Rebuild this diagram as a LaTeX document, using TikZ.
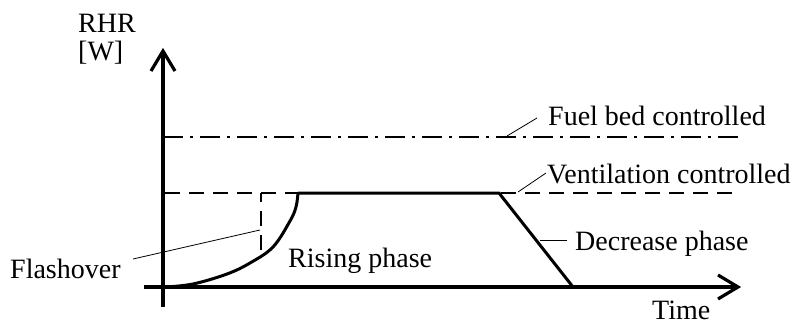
\documentclass[tikz,border=0pt]{standalone}
\usepackage{fontspec}
\setmainfont{Liberation Serif}
\begin{document}
\begin{tikzpicture}[x=1pt,y=-1pt,
  axisline/.style={line width=3.2pt, line join=miter},
  curveline/.style={line width=3pt, line join=round},
  ventline/.style={line width=1.5pt, dash pattern=on 15pt off 9pt},
  fuelline/.style={line width=1.5pt, dash pattern=on 20pt off 7pt on 3pt off 7pt},
  leader/.style={line width=0.8pt},
  lbl/.style={inner sep=0pt, anchor=base west, font=\fontsize{28}{30}\selectfont}]
\useasboundingbox (0,0) rectangle (804,327);
% coordinates
\coordinate (ybot) at (163,307);
\coordinate (ytip) at (163,51);
\coordinate (xstart) at (144,287);
\coordinate (xtip) at (738,287);
\coordinate (origin) at (165,287);
\coordinate (ventA) at (165,193);
\coordinate (ventB) at (740,193);
\coordinate (fuelA) at (163,137);
\coordinate (fuelB) at (740,137);
\coordinate (flA) at (261,250);
\coordinate (flB) at (261,193);
\coordinate (top1) at (298,193);
\coordinate (top2) at (499,193);
\coordinate (endd) at (573,287);
% reference lines
\draw[fuelline] (fuelA) -- (fuelB);
\draw[ventline] (ventA) -- (ventB);
\draw[ventline] (flA) -- (flB);
% axes
\draw[axisline] (ybot) -- (ytip);
\draw[axisline] (ytip) ++(-12,20) -- (ytip) -- ++(12,20);
\draw[axisline] (xstart) -- (xtip);
\draw[axisline] (xtip) ++(-20,-12) -- (xtip) -- ++(-20,12);
% RHR curve
\draw[curveline] plot[smooth, tension=0.6] coordinates {(165,287) (193,284) (227,274) (250,263) (273,247) (290,221) (296,207) (298,193)};
\draw[curveline] (top1) -- (top2) -- (endd);
% labels
\node[lbl] (rhr) at (78,32) {RHR};
\node[lbl] (w) at (78,60) {[W]};
\node[lbl] (fuel) at (548,125) {Fuel bed controlled};
\node[lbl] (vent) at (547,183) {Ventilation controlled};
\node[lbl] (decr) at (575,250) {Decrease phase};
\node[lbl] (flash) at (10,278) {Flashover};
\node[lbl] (rise) at (288,267) {Rising phase};
\node[lbl] (time) at (652,319) {Time};
% leaders
\coordinate (fuelL) at (507,136);
\coordinate (fuelT) at (537,118);
\coordinate (ventL) at (518,192);
\coordinate (ventT) at (546,173);
\coordinate (decL) at (540,240);
\coordinate (decT) at (567,240);
\coordinate (flL) at (133,259);
\coordinate (flT) at (260,230);
\draw[leader] (fuelL) -- (fuelT);
\draw[leader] (ventL) -- (ventT);
\draw[leader] (decL) -- (decT);
\draw[leader] (flL) -- (flT);
\end{tikzpicture}
\end{document}
